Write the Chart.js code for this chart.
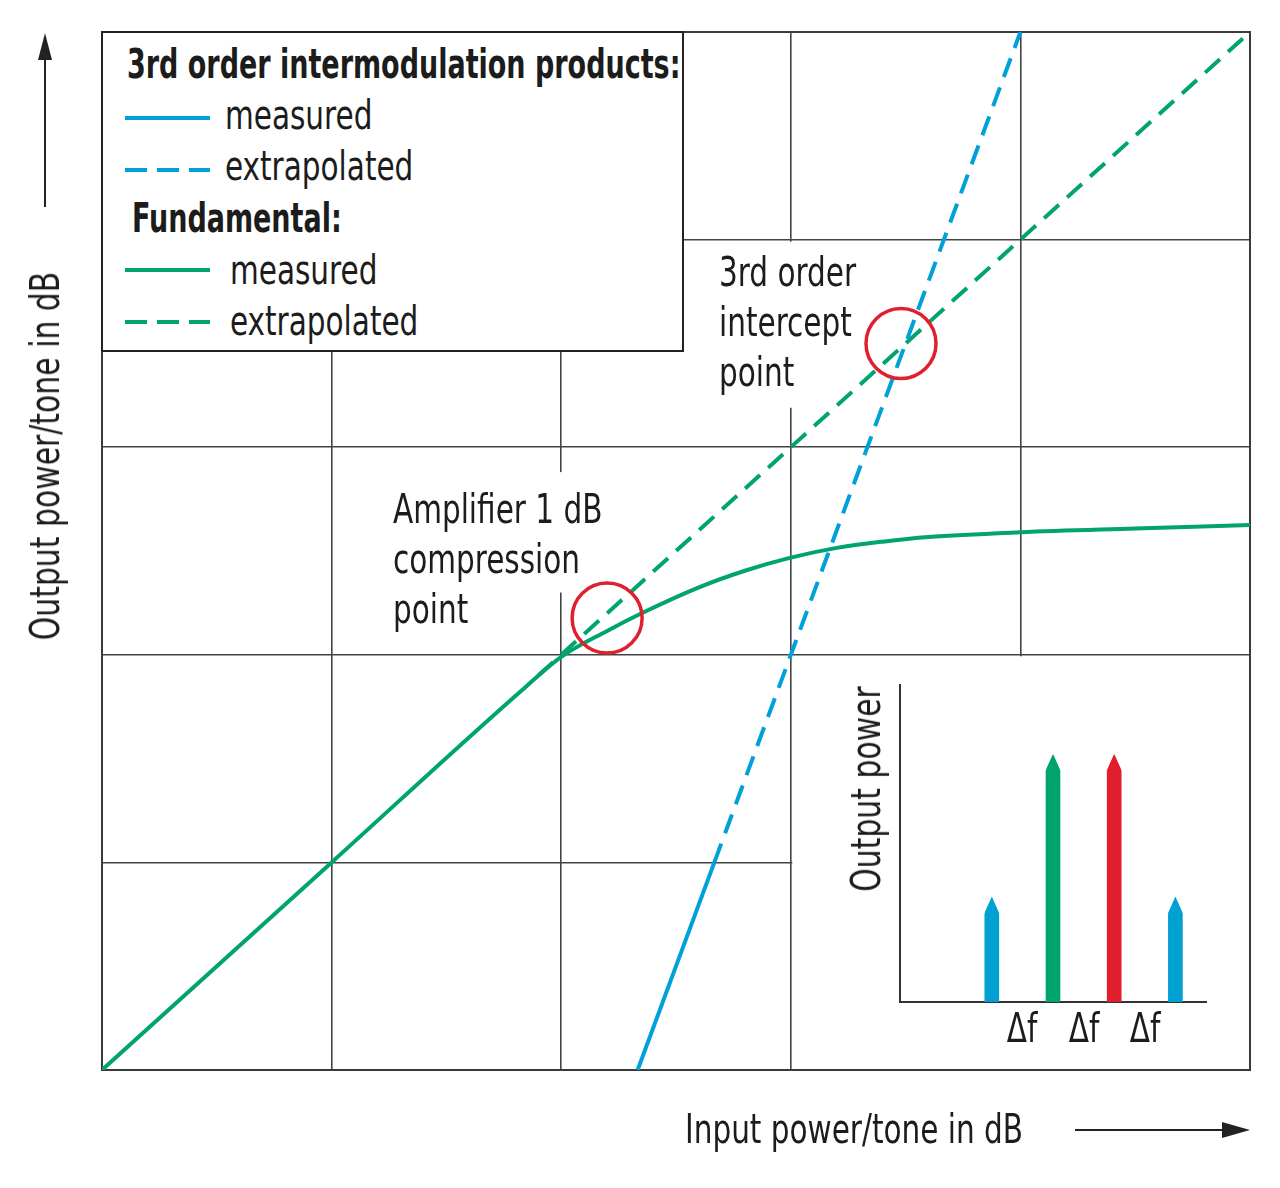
<!DOCTYPE html>
<html>
<head>
<meta charset="utf-8">
<title>Third order intercept point</title>
<script src="https://cdn.jsdelivr.net/npm/chart.js@4.4.1/dist/chart.umd.min.js"></script>
<style>
  html, body { margin: 0; padding: 0; background: #fff; }
  body {
    width: 1280px; height: 1188px; position: relative; overflow: hidden;
    font-family: "Liberation Sans Narrow", "DejaVu Sans Condensed", "Noto Sans", sans-serif;
    color: #1c1c1c;
  }
  #main { position: absolute; left: 0; top: 0; }
  #inset { position: absolute; left: 820px; top: 660px; }
  /* the fallback face is wider than the original condensed type, squeeze it */
  .txt { position: absolute; font-size: 40px; line-height: 50px; white-space: nowrap;
         transform: scaleX(0.82); transform-origin: 0 0; }
  .txt.b { font-weight: 700; transform: scaleX(0.75); }
  .legend {
    position: absolute; left: 101px; top: 31px; width: 583px; height: 321px;
    box-sizing: border-box; background: #fff; border: 2px solid #222;
  }
  .smp { position: absolute; left: 22px; width: 85px; height: 4px; }
  .solid-blue { background: #00a0d8; }
  .solid-green { background: #00a46c; }
  .dash-blue { background: repeating-linear-gradient(90deg, #00a0d8 0 22px, transparent 22px 32px); }
  .dash-green { background: repeating-linear-gradient(90deg, #00a46c 0 22px, transparent 22px 32px); }
  .vtitle { position: absolute; font-size: 40px; line-height: 48px; white-space: nowrap;
            transform: translate(-50%, -50%) rotate(-90deg) scaleX(0.83); }
  .tick { position: absolute; font-size: 40px; line-height: 50px; white-space: nowrap;
          transform: translateX(-50%) scaleX(0.82); }
</style>
</head>
<body>
<canvas id="main" width="1280" height="1188"></canvas>
<canvas id="inset" width="420" height="400"></canvas>

<div class="legend">
  <div class="txt b" style="left:24px; top:6px;">3rd order intermodulation products:</div>
  <div class="smp solid-blue" style="top:83px;"></div>
  <div class="txt" style="left:122px; top:57px;">measured</div>
  <div class="smp dash-blue" style="top:135px;"></div>
  <div class="txt" style="left:122px; top:108px;">extrapolated</div>
  <div class="txt b" style="left:29px; top:160px;">Fundamental:</div>
  <div class="smp solid-green" style="top:235px;"></div>
  <div class="txt" style="left:127px; top:212px;">measured</div>
  <div class="smp dash-green" style="top:287px;"></div>
  <div class="txt" style="left:127px; top:263px;">extrapolated</div>
</div>

<div class="txt" style="left:393px; top:484px;">Amplifier 1 dB<br>compression<br>point</div>
<div class="txt" style="left:719px; top:247px;">3rd order<br>intercept<br>point</div>
<div class="txt" style="left:685px; top:1104px;">Input power/tone in dB</div>
<div class="vtitle" style="left:45px; top:456px;">Output power/tone in dB</div>
<div class="vtitle" style="left:866px; top:789px;">Output power</div>

<script>
// axis grid (one division per step, 0..5 on both axes)
const gridTicks = [0, 1, 2, 3, 4, 5];

// fundamental, measured (compresses above ~2)
const fundMeasX = [0, 1, 1.85, 2, 2.2, 2.35, 2.6, 2.8, 3, 3.2, 3.4, 3.6, 4, 4.5, 5];
const fundMeasY = [0, 1, 1.85, 1.99, 2.115, 2.2, 2.325, 2.405, 2.468, 2.515, 2.545, 2.567, 2.59, 2.608, 2.625];
// fundamental, extrapolated (slope 1)
const fundExtX = [1.9, 5];
const fundExtY = [1.9, 5];
// 3rd order products, measured and extrapolated (slope 3)
const imdMeasX = [2.333, 2.667];
const imdMeasY = [0, 1];
const imdExtX = [2.667, 4];
const imdExtY = [1, 5];
// marked points: 1 dB compression, intercept point
const markX = [2.2, 3.48];
const markY = [2.177, 3.5];

// inset spectrum: two tones and two 3rd order products
const toneX = [1.5, 2.5, 3.5, 4.5];
const toneLevel = [3.3, 7.8, 7.8, 3.3];
const toneColors = ['#00a0d2', '#00a46c', '#e01e2e', '#00a0d2'];
const spacingTicks = [2, 3, 4];
const spacingLabel = 'Δf';

const GREEN = '#00a46c';
const BLUE = '#00a0d8';
const RED = '#e0202e';

const pts = (xs, ys) => xs.map((x, i) => ({ x: x, y: ys[i] }));

// white out grid segments behind the labels and the inset, then frame the plot
const maskPlugin = {
  id: 'mask',
  beforeDatasetsDraw(chart) {
    const { ctx, chartArea: a, scales: { x, y } } = chart;
    ctx.save();
    ctx.fillStyle = '#fff';
    // behind "3rd order intercept point"
    ctx.fillRect(x.getPixelForValue(3) - 4, y.getPixelForValue(3.99), 8, y.getPixelForValue(3.19) - y.getPixelForValue(3.99));
    // behind "Amplifier 1 dB compression point"
    ctx.fillRect(x.getPixelForValue(2) - 4, y.getPixelForValue(2.88), 8, y.getPixelForValue(2.3) - y.getPixelForValue(2.88));
    // inset area
    const l = x.getPixelForValue(3) + 1.5, r = x.getPixelForValue(5) + 2;
    const t = y.getPixelForValue(2) + 1.5, b = y.getPixelForValue(0) + 2;
    ctx.fillRect(l, t, r - l, b - t);
    // frame
    ctx.strokeStyle = '#3a3a3a';
    ctx.lineWidth = 2;
    ctx.strokeRect(a.left, a.top, a.right - a.left, a.bottom - a.top);
    ctx.restore();
  },
  afterDraw(chart) {
    const ctx = chart.ctx;
    ctx.save();
    ctx.strokeStyle = '#222';
    ctx.fillStyle = '#222';
    ctx.lineWidth = 2;
    // up arrow beside the y title
    ctx.beginPath(); ctx.moveTo(45, 207); ctx.lineTo(45, 55); ctx.stroke();
    ctx.beginPath(); ctx.moveTo(45, 33); ctx.lineTo(38, 60); ctx.lineTo(52, 60); ctx.closePath(); ctx.fill();
    // right arrow beside the x title
    ctx.beginPath(); ctx.moveTo(1075, 1130); ctx.lineTo(1225, 1130); ctx.stroke();
    ctx.beginPath(); ctx.moveTo(1250, 1130); ctx.lineTo(1222, 1122); ctx.lineTo(1222, 1138); ctx.closePath(); ctx.fill();
    ctx.restore();
  }
};

const gridAxis = {
  type: 'linear',
  min: 0,
  max: 5,
  afterBuildTicks: (axis) => { axis.ticks = gridTicks.map(v => ({ value: v })); },
  ticks: { display: false },
  grid: { color: '#444', lineWidth: 1.6, drawTicks: false },
  border: { display: false }
};

new Chart(document.getElementById('main'), {
  type: 'line',
  data: {
    datasets: [
      {
        data: pts(markX, markY),
        showLine: false,
        pointRadius: 35,
        pointBorderWidth: 3.5,
        pointBorderColor: RED,
        pointBackgroundColor: 'rgba(0,0,0,0)'
      },
      { data: pts(fundMeasX, fundMeasY), borderColor: GREEN, borderWidth: 4, pointRadius: 0, cubicInterpolationMode: 'monotone' },
      { data: pts(imdMeasX, imdMeasY), borderColor: BLUE, borderWidth: 4, pointRadius: 0 },
      { data: pts(imdExtX, imdExtY), borderColor: BLUE, borderWidth: 4, pointRadius: 0, borderDash: [20, 11] },
      { data: pts(fundExtX, fundExtY), borderColor: GREEN, borderWidth: 4, pointRadius: 0, borderDash: [20, 11] }
    ]
  },
  options: {
    responsive: false,
    animation: false,
    layout: { autoPadding: false, padding: { left: 102, top: 32, right: 30, bottom: 118 } },
    plugins: { legend: { display: false }, tooltip: { enabled: false } },
    scales: { x: gridAxis, y: gridAxis }
  },
  plugins: [maskPlugin]
});

// pointed tips on the spectral lines
const arrowTips = {
  id: 'arrowTips',
  afterDatasetsDraw(chart) {
    const ctx = chart.ctx;
    const head = 17;
    ctx.save();
    ctx.globalCompositeOperation = 'destination-out';
    chart.getDatasetMeta(0).data.forEach(bar => {
      const w = bar.width / 2 + 1;
      ctx.beginPath();
      ctx.moveTo(bar.x - w, bar.y - 1);
      ctx.lineTo(bar.x, bar.y - 1);
      ctx.lineTo(bar.x - w, bar.y + head);
      ctx.closePath();
      ctx.moveTo(bar.x + w, bar.y - 1);
      ctx.lineTo(bar.x, bar.y - 1);
      ctx.lineTo(bar.x + w, bar.y + head);
      ctx.closePath();
      ctx.fill();
    });
    ctx.restore();
  }
};

const insetCanvas = document.getElementById('inset');
const inset = new Chart(insetCanvas, {
  type: 'bar',
  data: {
    datasets: [{
      data: pts(toneX, toneLevel),
      backgroundColor: toneColors,
      barThickness: 14,
      borderWidth: 0
    }]
  },
  options: {
    responsive: false,
    animation: false,
    layout: { autoPadding: false, padding: { left: 0, top: 25, right: 34, bottom: 0 } },
    plugins: { legend: { display: false }, tooltip: { enabled: false } },
    scales: {
      x: {
        type: 'linear',
        min: 0,
        max: 5,
        offset: false,
        afterBuildTicks: (axis) => { axis.ticks = spacingTicks.map(v => ({ value: v })); },
        afterFit: (axis) => { axis.height = 58; },
        ticks: { display: false },
        grid: { display: false, drawTicks: false },
        border: { display: true, color: '#333', width: 2 }
      },
      y: {
        min: 0,
        max: 10,
        afterFit: (axis) => { axis.width = 80; },
        ticks: { display: false },
        grid: { display: false, drawTicks: false },
        border: { display: true, color: '#333', width: 2 }
      }
    }
  },
  plugins: [arrowTips]
});

// tone spacing labels, placed from the inset's x scale
const xs = inset.scales.x;
xs.ticks.forEach(t => {
  const d = document.createElement('div');
  d.className = 'tick';
  d.textContent = spacingLabel;
  d.style.left = (insetCanvas.offsetLeft + xs.getPixelForValue(t.value)) + 'px';
  d.style.top = (insetCanvas.offsetTop + xs.top + 1) + 'px';
  document.body.appendChild(d);
});
</script>
</body>
</html>
